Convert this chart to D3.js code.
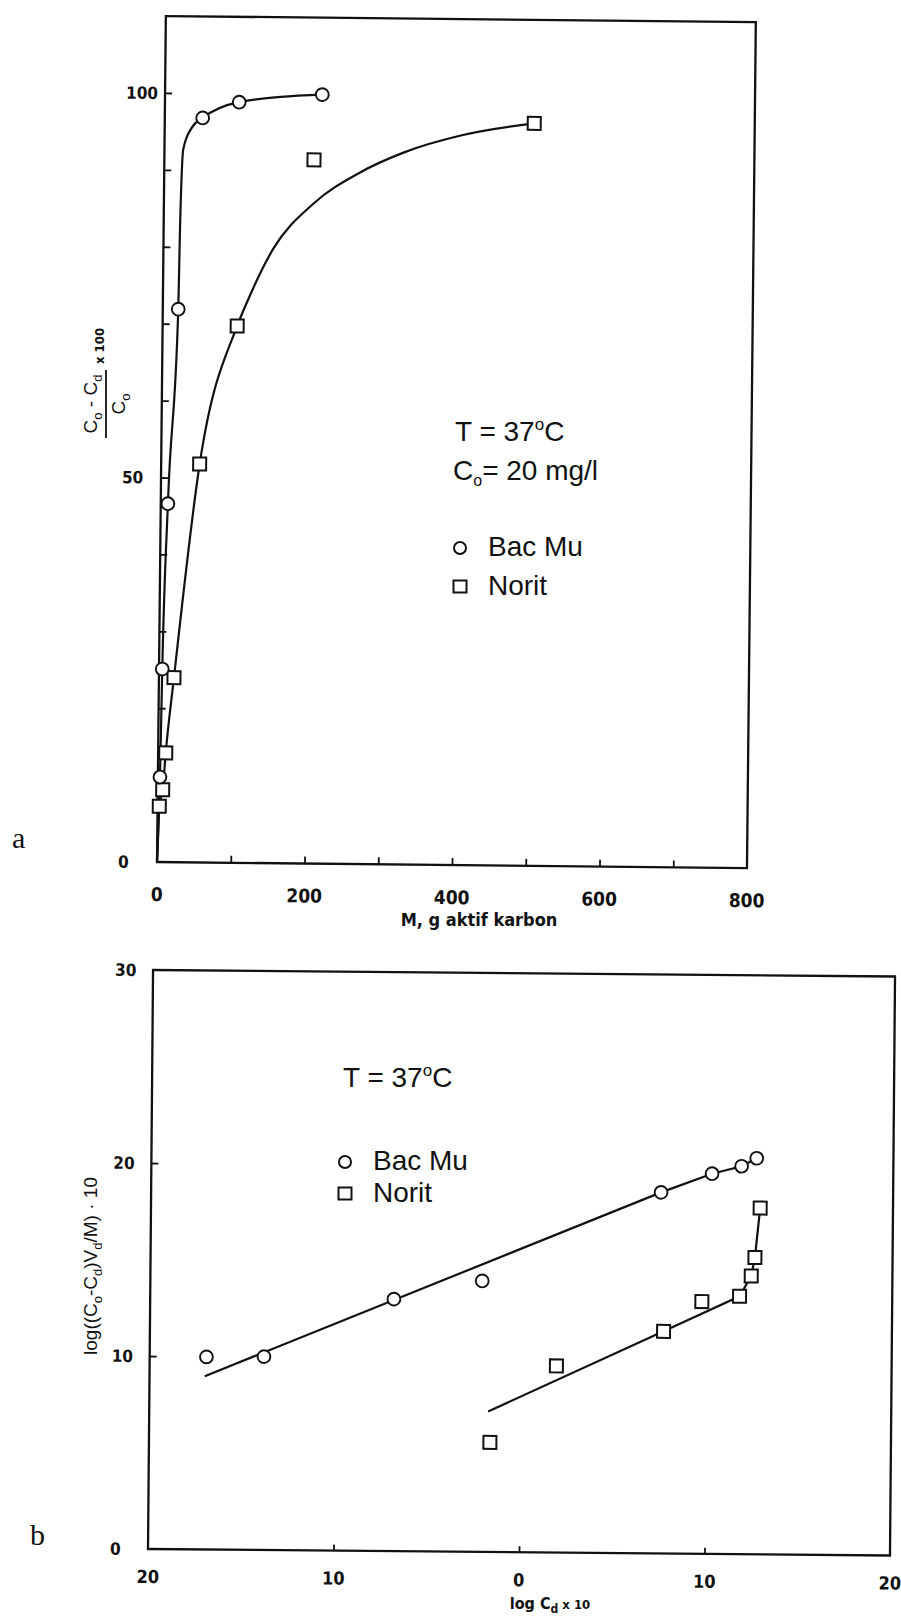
<!DOCTYPE html>
<html>
<head>
<meta charset="utf-8">
<script src="https://cdn.jsdelivr.net/npm/d3@7"></script>
<style>
  body { margin: 0; background: #fff; }
  svg { display: block; }
  text { fill: #111; }
  .num { font-family: "Liberation Sans Narrow", "DejaVu Sans Condensed", "Liberation Sans", Arial, sans-serif; font-weight: bold; }
  .lbl { font-family: "Liberation Sans", Arial, sans-serif; }
  .ser { font-family: "Liberation Serif", "DejaVu Serif", serif; }
</style>
</head>
<body>
<svg id="fig" width="901" height="1618"></svg>
<script>
// ---- panel a : % removal vs. mass of carbon ----
var aBacM = [2.8, 4.4, 9.7, 21.0, 51.4, 100.7, 213.2];
var aBacP = [11.05, 25.1, 46.6, 71.9, 96.8, 98.9, 100.0];
var aNorM = [2.3, 6.7, 10.3, 20.4, 52.2, 101.1, 202.9, 501];
var aNorP = [7.25, 9.4, 14.2, 24.0, 51.8, 69.8, 91.5, 96.55];
// hand drawn curves through the points
var aBacCurve = [[0, 0], [2.8, 11.05], [4.4, 25.1], [9.7, 46.6], [21, 71.9], [22.2, 82.3],
  [25.5, 92.7], [36.6, 95.5], [51.4, 96.8], [100.7, 98.9], [213.2, 100]];
var aNorCurve = [[0, 0], [2.3, 7.25], [6.7, 9.4], [10.3, 14.2], [20.4, 24], [52.2, 51.8],
  [101.1, 69.8], [113.6, 72.8], [149, 79.9], [202.6, 85.8], [265, 89.9], [325, 92.6],
  [403, 94.9], [501, 96.55]];
var aXLabels = [0, 200, 400, 600, 800];
var aXMinor = [100, 200, 300, 400, 500, 600, 700];
var aYLabels = [0, 50, 100];
var aYMinor = [10, 20, 30, 40, 50, 60, 70, 80, 90, 100];

// ---- panel b : log plot ----
var bBacX = [-16.94, -13.84, -6.86, -2.11, 7.49, 10.23, 11.82, 12.63];
var bBacY = [9.98, 10.02, 13.06, 14.04, 18.71, 19.7, 20.1, 20.52];
var bNorX = [-1.62, 1.93, 7.69, 9.74, 11.77, 12.39, 12.58, 12.84];
var bNorY = [5.68, 9.67, 11.51, 13.07, 13.36, 14.42, 15.38, 17.94];
var bBacLine = [[-17.02, 8.98], [7.49, 18.71], [10.23, 19.7], [11.82, 20.1], [12.63, 20.52]];
var bNorLine = [[-1.73, 7.28], [7.69, 11.51], [11.77, 13.36], [12.39, 14.42], [12.58, 15.38], [12.84, 17.94]];
var bXLabels = [-20, -10, 0, 10, 20];
var bXMinor = [-10, 0, 10];
var bYLabels = [0, 10, 20, 30];
var bYMinor = [10, 20];

var svg = d3.select("#fig");
svg.append("rect").attr("width", 901).attr("height", 1618).attr("fill", "#fff");

var ink = "#111";
var R = 6.4, S = 13;

function circles(g, xs, ys, x, y) {
  g.selectAll(null)
    .data(xs)
    .enter()
    .append("circle")
    .attr("cx", function(d) { return x(d); })
    .attr("cy", function(d, i) { return y(ys[i]); })
    .attr("r", R)
    .attr("fill", "#fff")
    .attr("stroke", ink)
    .attr("stroke-width", 1.9);
}

function squares(g, xs, ys, x, y) {
  g.selectAll(null)
    .data(xs)
    .enter()
    .append("rect")
    .attr("x", function(d) { return x(d) - S / 2; })
    .attr("y", function(d, i) { return y(ys[i]) - S / 2; })
    .attr("width", S)
    .attr("height", S)
    .attr("fill", "#fff")
    .attr("stroke", ink)
    .attr("stroke-width", 2);
}

function ticks(g, axis) {
  g.call(axis);
  g.select(".domain").remove();
  g.selectAll("line").attr("stroke", ink).attr("stroke-width", 1.8);
}

function tempText(x, y) {
  var t = svg.append("text").attr("class", "lbl").attr("x", x).attr("y", y).style("font-size", "28px");
  t.append("tspan").text("T = 37");
  t.append("tspan").attr("dy", -11).style("font-size", "17px").text("o");
  t.append("tspan").attr("dy", 11).text("C");
}

function legend(cx, cy, gap) {
  svg.append("circle").attr("cx", cx).attr("cy", cy).attr("r", 6)
    .attr("fill", "#fff").attr("stroke", ink).attr("stroke-width", 2);
  svg.append("rect").attr("x", cx - 6.5).attr("y", cy + gap - 6.5).attr("width", 13).attr("height", 12)
    .attr("fill", "#fff").attr("stroke", ink).attr("stroke-width", 2);
  svg.append("text").attr("class", "lbl").attr("x", cx + 28).attr("y", cy + 8)
    .style("font-size", "28px").text("Bac Mu");
  svg.append("text").attr("class", "lbl").attr("x", cx + 28).attr("y", cy + gap + 8)
    .style("font-size", "28px").text("Norit");
}

// ================= panel a =================
var ga = svg.append("g").attr("transform", "translate(157,862) rotate(0.6)");
var xa = d3.scaleLinear().domain([0, 800]).range([0, 590]);
var ya = d3.scaleLinear().domain([0, 110]).range([0, -846]);

ga.append("rect")
  .attr("x", 0).attr("y", ya(110))
  .attr("width", xa(800)).attr("height", -ya(110))
  .attr("fill", "none").attr("stroke", ink).attr("stroke-width", 2.3);

ticks(ga.append("g"), d3.axisBottom(xa).tickValues(aXMinor).tickSize(-7).tickFormat(""));
ticks(ga.append("g"), d3.axisLeft(ya).tickValues(aYMinor).tickSize(-7).tickFormat(""));

ga.selectAll(".ylab")
  .data(aYLabels)
  .enter()
  .append("text")
  .attr("class", "num")
  .attr("x", -39)
  .attr("y", function(d) { return ya(d); })
  .attr("dy", "0.36em")
  .style("font-size", "17px")
  .text(function(d) { return d; });

ga.selectAll(".xlab")
  .data(aXLabels)
  .enter()
  .append("text")
  .attr("class", "num")
  .attr("x", function(d) { return xa(d); })
  .attr("y", 39)
  .attr("text-anchor", "middle")
  .style("font-size", "19px")
  .text(function(d) { return d; });

var lineA = d3.line()
  .x(function(d) { return xa(d[0]); })
  .y(function(d) { return ya(d[1]); })
  .curve(d3.curveMonotoneX);

ga.append("path").attr("d", lineA(aBacCurve)).attr("fill", "none").attr("stroke", ink).attr("stroke-width", 2.2);
ga.append("path").attr("d", lineA(aNorCurve)).attr("fill", "none").attr("stroke", ink).attr("stroke-width", 2.2);
squares(ga, aNorM, aNorP, xa, ya);
circles(ga, aBacM, aBacP, xa, ya);

// axis titles a
svg.append("text").attr("class", "num").attr("x", 479).attr("y", 926)
  .attr("text-anchor", "middle").style("font-size", "18px").text("M, g aktif karbon");

var num = svg.append("text").attr("class", "lbl")
  .attr("transform", "translate(97,404) rotate(-90)")
  .attr("text-anchor", "middle").style("font-size", "19px");
num.append("tspan").text("C");
num.append("tspan").attr("dy", 5).style("font-size", "13px").text("o");
num.append("tspan").attr("dy", -5).text(" - C");
num.append("tspan").attr("dy", 5).style("font-size", "13px").text("d");
svg.append("line").attr("x1", 106).attr("x2", 106).attr("y1", 370).attr("y2", 438)
  .attr("stroke", ink).attr("stroke-width", 1.8);
var den = svg.append("text").attr("class", "lbl")
  .attr("transform", "translate(125,404) rotate(-90)")
  .attr("text-anchor", "middle").style("font-size", "19px");
den.append("tspan").text("C");
den.append("tspan").attr("dy", 5).style("font-size", "13px").text("o");
svg.append("text").attr("class", "num")
  .attr("transform", "translate(104,364) rotate(-90)")
  .style("font-size", "13px").text("x 100");

tempText(455, 441);
var co = svg.append("text").attr("class", "lbl").attr("x", 453).attr("y", 480).style("font-size", "28px");
co.append("tspan").text("C");
co.append("tspan").attr("dy", 6).style("font-size", "16px").text("o");
co.append("tspan").attr("dy", -6).text("= 20 mg/l");
legend(460, 548, 39);

svg.append("text").attr("class", "ser").attr("x", 12).attr("y", 848).style("font-size", "30px").text("a");

// ================= panel b =================
var gb = svg.append("g").attr("transform", "translate(148,1549) rotate(0.5)");
var xb = d3.scaleLinear().domain([-20, 20]).range([0, 742]);
var yb = d3.scaleLinear().domain([0, 30]).range([0, -579]);

gb.append("rect")
  .attr("x", 0).attr("y", yb(30))
  .attr("width", xb(20)).attr("height", -yb(30))
  .attr("fill", "none").attr("stroke", ink).attr("stroke-width", 2.3);

ticks(gb.append("g"), d3.axisBottom(xb).tickValues(bXMinor).tickSize(-6).tickFormat(""));
ticks(gb.append("g"), d3.axisLeft(yb).tickValues(bYMinor).tickSize(-7).tickFormat(""));

gb.selectAll(".ylab")
  .data(bYLabels)
  .enter()
  .append("text")
  .attr("class", "num")
  .attr("x", -38)
  .attr("y", function(d) { return yb(d); })
  .attr("dy", "0.36em")
  .style("font-size", "17px")
  .text(function(d) { return d; });

gb.selectAll(".xlab")
  .data(bXLabels)
  .enter()
  .append("text")
  .attr("class", "num")
  .attr("x", function(d) { return xb(d); })
  .attr("y", 34)
  .attr("text-anchor", "middle")
  .style("font-size", "18px")
  .text(function(d) { return Math.abs(d); });

var lineB = d3.line()
  .x(function(d) { return xb(d[0]); })
  .y(function(d) { return yb(d[1]); });

gb.append("path").attr("d", lineB(bBacLine)).attr("fill", "none").attr("stroke", ink).attr("stroke-width", 2.2);
gb.append("path").attr("d", lineB(bNorLine)).attr("fill", "none").attr("stroke", ink).attr("stroke-width", 2.2);
squares(gb, bNorX, bNorY, xb, yb);
circles(gb, bBacX, bBacY, xb, yb);

// axis titles b
var xt = svg.append("text").attr("class", "num").attr("x", 550).attr("y", 1609)
  .attr("text-anchor", "middle").style("font-size", "16px");
xt.append("tspan").text("log C");
xt.append("tspan").attr("dy", 4).style("font-size", "12px").text("d");
xt.append("tspan").attr("dy", -4).style("font-size", "13px").text(" x 10");

var yt = svg.append("text").attr("class", "lbl")
  .attr("transform", "translate(97,1266) rotate(-90)")
  .attr("text-anchor", "middle").style("font-size", "19px");
yt.append("tspan").text("log((C");
yt.append("tspan").attr("dy", 5).style("font-size", "13px").text("o");
yt.append("tspan").attr("dy", -5).text("-C");
yt.append("tspan").attr("dy", 5).style("font-size", "13px").text("d");
yt.append("tspan").attr("dy", -5).text(")V");
yt.append("tspan").attr("dy", 5).style("font-size", "13px").text("d");
yt.append("tspan").attr("dy", -5).text("/M) \u00b7 10");

tempText(343, 1087);
legend(345, 1162, 32);

svg.append("text").attr("class", "ser").attr("x", 30).attr("y", 1545).style("font-size", "30px").text("b");
</script>
</body>
</html>
